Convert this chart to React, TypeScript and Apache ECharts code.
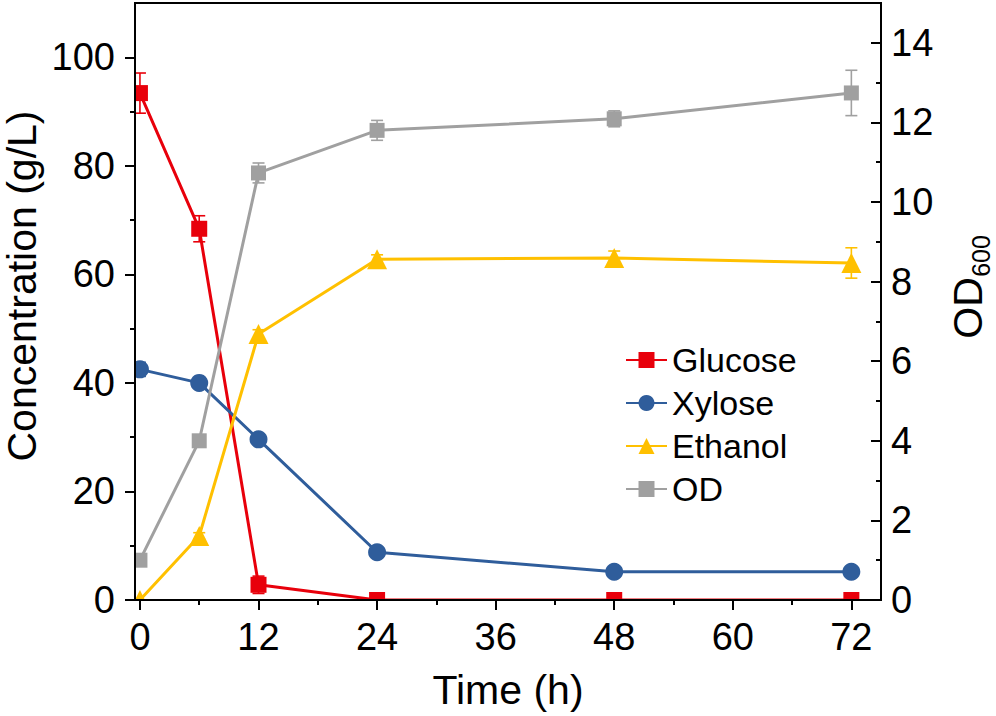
import React, { useEffect, useRef } from "react";
import * as echarts from "echarts";

const FONT = "'Liberation Sans', Arial, Helvetica, sans-serif";

const times = [0, 6, 12, 24, 48, 72];
const glucose = [93.4, 68.4, 2.8, 0, 0, 0];
const glucoseErr = [3.7, 2.4, 1.6, 0, 0, 0];
const xylose = [42.5, 40.0, 29.6, 8.8, 5.2, 5.2];
const xyloseErr = [1.3, 0.8, 0.6, 0.5, 0.4, 0.4];
const ethanol = [0, 11.8, 49.0, 62.8, 63.0, 62.1];
const ethanolErr = [0, 0.6, 0.8, 0.8, 1.3, 2.8];
const od = [1.0, 4.0, 10.73, 11.8, 12.09, 12.74];
const odErr = [0, 0, 0.25, 0.25, 0.2, 0.57];

const xTicks = [0, 12, 24, 36, 48, 60, 72];
const xMinorTicks = [6, 18, 30, 42, 54, 66];
const yLeftTicks = [0, 20, 40, 60, 80, 100];
const yLeftMinorTicks = [10, 30, 50, 70, 90];
const yRightTicks = [0, 2, 4, 6, 8, 10, 12, 14];
const yRightMinorTicks = [1, 3, 5, 7, 9, 11, 13];

const COLORS = {
  glucose: "#e8000b",
  xylose: "#2f5d9b",
  ethanol: "#ffc000",
  od: "#a0a0a0",
};

function pairs(vals: number[]) {
  return times.map((t, i) => [t, vals[i]]);
}

function errData(vals: number[], errs: number[]) {
  return times
    .map((t, i) => [t, vals[i] - errs[i], vals[i] + errs[i], errs[i]])
    .filter((d) => d[3] > 0);
}

function errSeries(name: string, vals: number[], errs: number[], color: string, yAxisIndex: number) {
  return {
    type: "custom",
    name: name + " err",
    xAxisIndex: 0,
    yAxisIndex,
    z: 1,
    silent: true,
    data: errData(vals, errs),
    renderItem: (params: any, api: any) => {
      const x = api.value(0);
      const lo = api.coord([x, api.value(1)]);
      const hi = api.coord([x, api.value(2)]);
      const hw = 6;
      const st = { stroke: color, lineWidth: 1.6 };
      return {
        type: "group",
        children: [
          { type: "line", shape: { x1: lo[0], y1: lo[1], x2: hi[0], y2: hi[1] }, style: st },
          { type: "line", shape: { x1: lo[0] - hw, y1: lo[1], x2: lo[0] + hw, y2: lo[1] }, style: st },
          { type: "line", shape: { x1: hi[0] - hw, y1: hi[1], x2: hi[0] + hw, y2: hi[1] }, style: st },
        ],
      };
    },
  };
}

function lineSeries(name: string, vals: number[], color: string, symbol: string, size: number, yAxisIndex: number) {
  return {
    type: "line",
    name,
    xAxisIndex: 0,
    yAxisIndex,
    z: 2,
    data: pairs(vals),
    symbol,
    symbolSize: size,
    showAllSymbol: true,
    lineStyle: { color, width: 3 },
    itemStyle: { color },
    emphasis: { disabled: true },
  };
}

const GRID = { left: 135, top: 3, right: 115, bottom: 116 };

export default function App() {
  const ref = useRef<HTMLDivElement>(null);

  useEffect(() => {
    if (!ref.current) return;
    const chart = echarts.init(ref.current, undefined, { renderer: "svg" });
    const axisLineStyle = { color: "#000", width: 2 };
    const labelStyle = { color: "#000", fontFamily: FONT, fontSize: 38 };

    const option: any = {
      animation: false,
      backgroundColor: "#fff",
      grid: {
        ...GRID,
        show: true,
        borderColor: "#000",
        borderWidth: 2,
        backgroundColor: "transparent",
        containLabel: false,
      },
      legend: {
        orient: "vertical",
        left: 620,
        top: 338,
        itemWidth: 41,
        itemHeight: 20,
        itemGap: 9,
        textStyle: { fontSize: 34, fontFamily: FONT, color: "#000" },
        data: ["Glucose", "Xylose", "Ethanol", "OD"],
        selectedMode: false,
      },
      xAxis: [
        {
          type: "value",
          min: -0.5,
          max: 75,
          position: "bottom",
          z: 6,
          axisLine: { show: true, onZero: false, lineStyle: axisLineStyle },
          axisTick: { show: true, inside: false, length: 10, lineStyle: axisLineStyle, customValues: xTicks },
          axisLabel: { show: true, margin: 18, ...labelStyle, customValues: xTicks },
          splitLine: { show: false },
          name: "Time (h)",
          nameLocation: "middle",
          nameGap: 69,
          nameTextStyle: { fontSize: 41, color: "#000", fontFamily: FONT },
        },
        {
          type: "value",
          min: -0.5,
          max: 75,
          position: "bottom",
          z: 6,
          axisLine: { show: false, onZero: false },
          axisTick: { show: true, inside: false, length: 5, lineStyle: axisLineStyle, customValues: xMinorTicks },
          axisLabel: { show: false },
          splitLine: { show: false },
        },
      ],
      yAxis: [
        {
          type: "value",
          min: 0,
          max: 110,
          position: "left",
          z: 6,
          axisLine: { show: true, onZero: false, lineStyle: axisLineStyle },
          axisTick: { show: true, inside: false, length: 10, lineStyle: axisLineStyle, customValues: yLeftTicks },
          axisLabel: { show: true, margin: 20, ...labelStyle, customValues: yLeftTicks },
          splitLine: { show: false },
        },
        {
          type: "value",
          min: 0,
          max: 15,
          position: "right",
          z: 6,
          axisLine: { show: true, onZero: false, lineStyle: axisLineStyle },
          axisTick: { show: true, inside: true, length: 10, lineStyle: axisLineStyle, customValues: yRightTicks },
          axisLabel: { show: true, margin: 10, ...labelStyle, customValues: yRightTicks },
          splitLine: { show: false },
        },
        {
          type: "value",
          min: 0,
          max: 110,
          position: "left",
          z: 6,
          axisLine: { show: false, onZero: false },
          axisTick: { show: true, inside: false, length: 5, lineStyle: axisLineStyle, customValues: yLeftMinorTicks },
          axisLabel: { show: false },
          splitLine: { show: false },
        },
        {
          type: "value",
          min: 0,
          max: 15,
          position: "right",
          z: 6,
          axisLine: { show: false, onZero: false },
          axisTick: { show: true, inside: true, length: 5, lineStyle: axisLineStyle, customValues: yRightMinorTicks },
          axisLabel: { show: false },
          splitLine: { show: false },
        },
      ],
      graphic: [
        {
          type: "rect",
          z: 4,
          silent: true,
          shape: { x: 118, y: 601, width: 772, height: 12 },
          style: { fill: "#fff" },
        },
        {
          type: "rect",
          z: 4,
          silent: true,
          shape: { x: 116, y: 0, width: 18, height: 613 },
          style: { fill: "#fff" },
        },
        {
          type: "text",
          z: 10,
          x: 22,
          y: 286,
          rotation: Math.PI / 2,
          style: {
            text: "Concentration (g/L)",
            fontSize: 41,
            fontFamily: FONT,
            fill: "#000",
            align: "center",
            verticalAlign: "middle",
          },
        },
        {
          type: "text",
          z: 10,
          x: 968,
          y: 308,
          rotation: Math.PI / 2,
          style: {
            text: "OD",
            fontSize: 41,
            fontFamily: FONT,
            fill: "#000",
            align: "center",
            verticalAlign: "middle",
          },
        },
        {
          type: "text",
          z: 10,
          x: 981,
          y: 256,
          rotation: Math.PI / 2,
          style: {
            text: "600",
            fontSize: 25,
            fontFamily: FONT,
            fill: "#000",
            align: "center",
            verticalAlign: "middle",
          },
        },
      ],
      series: [
        errSeries("Glucose", glucose, glucoseErr, COLORS.glucose, 0),
        errSeries("Xylose", xylose, xyloseErr, COLORS.xylose, 0),
        errSeries("Ethanol", ethanol, ethanolErr, COLORS.ethanol, 0),
        errSeries("OD", od, odErr, COLORS.od, 1),
        lineSeries("Glucose", glucose, COLORS.glucose, "rect", 16, 0),
        lineSeries("Xylose", xylose, COLORS.xylose, "circle", 18, 0),
        lineSeries("Ethanol", ethanol, COLORS.ethanol, "triangle", 20, 0),
        lineSeries("OD", od, COLORS.od, "rect", 15, 1),
      ],
    };

    chart.setOption(option);
    return () => chart.dispose();
  }, []);

  return (
    <div
      ref={ref}
      style={{ position: "fixed", left: 0, top: 0, width: 996, height: 716, background: "#fff" }}
    />
  );
}
